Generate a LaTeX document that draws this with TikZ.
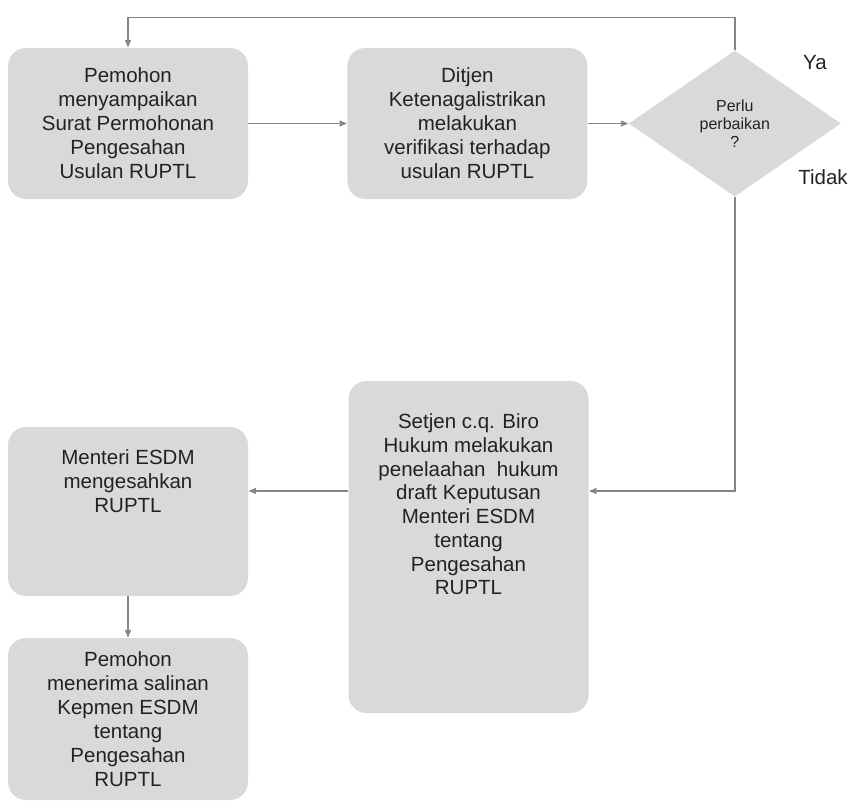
\documentclass[tikz,border=0pt]{standalone}
\usepackage{fontspec}
\setmainfont{Liberation Sans}
\usetikzlibrary{arrows,positioning,shapes.geometric}

\definecolor{boxgray}{HTML}{D9D9D9}
\definecolor{txtgray}{HTML}{222222}
\definecolor{linegray}{HTML}{858585}

\begin{document}
\begin{tikzpicture}[->,>=stealth',shorten >=1pt,auto,x=1pt,y=1pt]
  \tikzstyle{box}=[rectangle,rounded corners=18pt,fill=boxgray,text=txtgray,
                   minimum width=240pt,align=center,
                   font=\fontsize{20.5}{24}\selectfont]
  \tikzstyle{boxtext}=[text=txtgray,align=center,inner sep=0pt,
                   font=\fontsize{20.5}{23.7}\selectfont]
  \tikzstyle{decision}=[diamond,aspect=1.46,fill=boxgray,text=txtgray,
                   minimum width=212pt,minimum height=146pt,inner sep=0pt,
                   align=center,font=\fontsize{16}{18}\selectfont]
  \tikzstyle{plain}=[text=txtgray,font=\fontsize{20.5}{24}\selectfont]
  \tikzstyle{link}=[draw=linegray,line width=1.4pt]

  \useasboundingbox (0,0) rectangle (852,-807);

  \node[box,minimum height=151pt] (A) at (128,-123.5)
    {Pemohon\\menyampaikan\\Surat Permohonan\\Pengesahan\\Usulan RUPTL};
  \node[box,minimum height=151pt] (B) [right=99pt of A]
    {Ditjen\\Ketenagalistrikan\\melakukan\\verifikasi terhadap\\usulan RUPTL};
  \node[decision] (Q) [right=41pt of B] {Perlu\\perbaikan\\?};
  \node[plain] (ya) at (815,-63) {Ya};
  \node[plain] (tidak) at (823,-177) {Tidak};

  \node[box,minimum height=332pt,
        label={[boxtext,below=33pt]north:{Setjen c.q. Biro\\Hukum melakukan\\penelaahan\ \ hukum\\draft Keputusan\\Menteri ESDM\\tentang\\Pengesahan\\RUPTL}}]
    (C) at (468.5,-547) {};
  \node[box,minimum height=169pt,
        label={[boxtext,below=23pt]north:{Menteri ESDM\\mengesahkan\\RUPTL}}]
    (D) at (128,-511.5) {};
  \node[box,minimum height=162pt] (E) at (128,-719)
    {Pemohon\\menerima salinan\\Kepmen ESDM\\tentang\\Pengesahan\\RUPTL};

  \coordinate (lvl) at (0,-491);

  \draw[link] (A) -- (B);
  \draw[link] (B) -- (Q);
  \draw[link] (Q.north) -- ++(0,33) -| (A.north);
  \draw[link] (Q.south) |- (C.east |- lvl);
  \draw[link] (C.west |- lvl) -- (D.east |- lvl);
  \draw[link] (D) -- (E);
\end{tikzpicture}
\end{document}
